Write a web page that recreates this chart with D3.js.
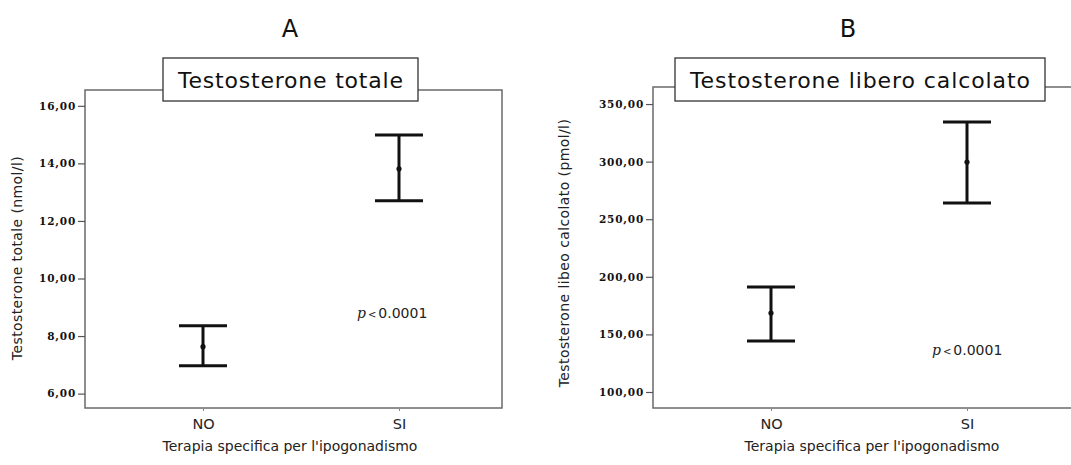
<!DOCTYPE html>
<html>
<head>
<meta charset="utf-8">
<script src="https://cdn.jsdelivr.net/npm/d3@7"></script>
<style>
  body { margin: 0; background: #fff; }
  svg { display: block; }
</style>
</head>
<body>
<div class="chart"></div>
<script>
// group labels
var categories = ["NO", "SI"];

// panel A: total testosterone (nmol/l), mean with 95% CI
var totMean = [7.63, 13.81];
var totLow = [6.97, 12.70];
var totHigh = [8.36, 14.99];
var totTicks = [6, 8, 10, 12, 14, 16];

// panel B: calculated free testosterone (pmol/l)
var freeMean = [168.6, 299.7];
var freeLow = [144.3, 264.1];
var freeHigh = [191.1, 334.4];
var freeTicks = [100, 150, 200, 250, 300, 350];

var svgWidth = 1071;
var svgHeight = 465;
var sans = "DejaVu Sans, sans-serif";

var svg = d3.select('.chart')
  .append('svg')
  .attr('width', svgWidth)
  .attr('height', svgHeight);

var commaFmt = function (d) { return d3.format(".2f")(d).replace(".", ","); };

function drawPanel(p) {
  var g = svg.append("g");

  var yScale = d3.scaleLinear()
    .domain(p.yDomain)
    .range([p.bottom, p.top]);

  var xScale = d3.scalePoint()
    .domain(categories)
    .range([p.left + 118, p.left + 314]);

  // frame
  g.append("rect")
    .attr("x", p.left)
    .attr("y", p.top)
    .attr("width", p.right - p.left)
    .attr("height", p.bottom - p.top)
    .attr("fill", "none")
    .attr("stroke", "#6a6a6a")
    .attr("stroke-width", 1.5);

  // y axis
  var yAxis = g.append("g")
    .attr("transform", "translate(" + p.left + ",0)")
    .call(d3.axisLeft(yScale).tickValues(p.ticks).tickSize(7).tickPadding(2).tickFormat(commaFmt));
  yAxis.select(".domain").remove();
  yAxis.selectAll("line").attr("stroke", "#555").attr("stroke-width", 1.2);
  yAxis.selectAll("text")
    .attr("font-family", "DejaVu Serif, serif")
    .attr("font-weight", "bold")
    .attr("font-size", 10.5)
    .attr("letter-spacing", 0.8)
    .attr("fill", "#111");

  // x axis
  var xAxis = g.append("g")
    .attr("transform", "translate(0," + p.bottom + ")")
    .call(d3.axisBottom(xScale).tickSize(3).tickPadding(8));
  xAxis.select(".domain").remove();
  xAxis.selectAll("line").attr("stroke", "#888");
  xAxis.selectAll("text")
    .attr("font-family", sans)
    .attr("font-size", 14.5)
    .attr("fill", "#222");

  // error bars
  var idx = d3.range(categories.length);
  var capW = 48;
  var bars = g.selectAll(".ebar")
    .data(idx)
    .enter()
    .append("g")
    .attr("class", "ebar");

  bars.append("line")
    .attr("x1", function (i) { return xScale(categories[i]); })
    .attr("x2", function (i) { return xScale(categories[i]); })
    .attr("y1", function (i) { return yScale(p.low[i]); })
    .attr("y2", function (i) { return yScale(p.high[i]); })
    .attr("stroke", "#111")
    .attr("stroke-width", 3);

  [p.low, p.high].forEach(function (arr) {
    bars.append("line")
      .attr("x1", function (i) { return xScale(categories[i]) - capW / 2; })
      .attr("x2", function (i) { return xScale(categories[i]) + capW / 2; })
      .attr("y1", function (i) { return yScale(arr[i]); })
      .attr("y2", function (i) { return yScale(arr[i]); })
      .attr("stroke", "#111")
      .attr("stroke-width", 3);
  });

  bars.append("circle")
    .attr("cx", function (i) { return xScale(categories[i]); })
    .attr("cy", function (i) { return yScale(p.mean[i]); })
    .attr("r", 2.6)
    .attr("fill", "#111");

  // p value
  var pt = g.append("text")
    .attr("x", p.pX)
    .attr("y", p.pY)
    .attr("font-family", "DejaVu Sans, sans-serif")
    .attr("font-size", 14)
    .attr("fill", "#222");
  pt.append("tspan").attr("font-style", "italic").attr("font-family", "DejaVu Serif, serif").text("p");
  pt.append("tspan").attr("font-size", 10).attr("dx", 2).text("<");
  pt.append("tspan").attr("dx", 2).text("0.0001");

  // axis titles
  g.append("text")
    .attr("transform", "translate(" + p.yTitleX + "," + p.yTitleY + ") rotate(-90)")
    .attr("text-anchor", "middle")
    .attr("font-family", sans)
    .attr("font-size", 14)
    .attr("letter-spacing", 0.4)
    .attr("fill", "#222")
    .text(p.yTitle);

  g.append("text")
    .attr("x", p.xTitleX)
    .attr("y", 451)
    .attr("text-anchor", "middle")
    .attr("font-family", sans)
    .attr("font-size", 14)
    .attr("fill", "#222")
    .text("Terapia specifica per l'ipogonadismo");

  // panel letter
  g.append("text")
    .attr("x", p.letterX)
    .attr("y", 37)
    .attr("text-anchor", "middle")
    .attr("font-family", sans)
    .attr("font-size", 24)
    .attr("fill", "#111")
    .text(p.letter);

  // boxed title
  g.append("rect")
    .attr("x", p.boxX)
    .attr("y", 58)
    .attr("width", p.boxW)
    .attr("height", 43)
    .attr("fill", "#fff")
    .attr("stroke", "#333")
    .attr("stroke-width", 1.3);

  g.append("text")
    .attr("x", p.boxX + p.boxW / 2)
    .attr("y", 88)
    .attr("text-anchor", "middle")
    .attr("font-family", sans)
    .attr("font-size", 22)
    .attr("fill", "#111")
    .attr("textLength", p.boxW - 30)
    .attr("lengthAdjust", "spacing")
    .text(p.title);
}

drawPanel({
  left: 85, right: 502, top: 90, bottom: 408,
  yDomain: [5.5, 16.55], ticks: totTicks,
  mean: totMean, low: totLow, high: totHigh,
  pX: 357, pY: 318,
  yTitle: "Testosterone totale (nmol/l)", yTitleX: 22, yTitleY: 258,
  xTitleX: 290,
  letter: "A", letterX: 290,
  title: "Testosterone totale", boxX: 163, boxW: 255
});

drawPanel({
  left: 653, right: 1072, top: 87, bottom: 408,
  yDomain: [86.1, 364.8], ticks: freeTicks,
  mean: freeMean, low: freeLow, high: freeHigh,
  pX: 932, pY: 355,
  yTitle: "Testosterone libeo calcolato (pmol/l)", yTitleX: 569, yTitleY: 253,
  xTitleX: 872,
  letter: "B", letterX: 848,
  title: "Testosterone libero calcolato", boxX: 675, boxW: 370
});
</script>
</body>
</html>
